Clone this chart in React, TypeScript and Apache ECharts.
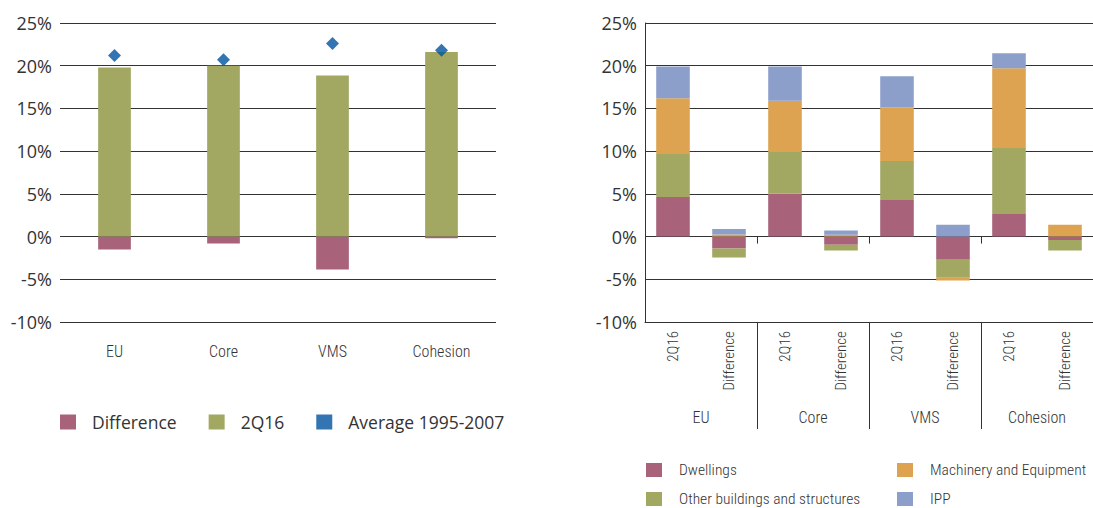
import React, { useEffect, useRef } from "react";
import * as echarts from "echarts";

// ---- Left chart data ----
const leftCategories = ["EU", "Core", "VMS", "Cohesion"];
const leftDifference = [-1.5, -0.8, -3.85, -0.2];
const left2Q16 = [19.8, 20.0, 18.85, 21.6];
const leftAverage = [21.2, 20.7, 22.6, 21.8];

// ---- Right chart data ----
const rightGroups = ["EU", "Core", "VMS", "Cohesion"];
const rightSubCategories = [
  "2Q16", "Difference",
  "2Q16", "Difference",
  "2Q16", "Difference",
  "2Q16", "Difference",
];
const dwellings = [4.64, -1.4, 5.02, -0.97, 4.29, -2.72, 2.65, -0.39];
const otherBuildings = [5.02, -1.05, 4.88, -0.67, 4.55, -2.1, 7.71, -1.25];
const machinery = [6.54, 0.23, 6.0, 0.2, 6.31, -0.32, 9.35, 1.37];
const ipp = [3.7, 0.67, 4.0, 0.5, 3.62, 1.37, 1.76, 0];

// ---- Axis ticks ----
const yMin = -10;
const yMax = 25;
const yStep = 5;

const RED = "#a8637a";
const GREEN = "#a2a862";
const BLUE = "#00539f";
const ORANGE = "#dda351";
const LIGHTBLUE = "#8c9fcb";
const LINE = "#333333";
const TEXT = "#333333";
const SANS = "'Open Sans', 'Noto Sans', sans-serif";
const NARROW = "'Roboto Condensed', 'Liberation Sans', sans-serif";

export default function App() {
  const ref = useRef<HTMLDivElement>(null);

  useEffect(() => {
    if (!ref.current) return;
    const chart = echarts.init(ref.current, null, { renderer: "svg" });

    const yAxisBase = (gridIndex: number, showLine: boolean) => ({
      gridIndex,
      type: "value",
      min: yMin,
      max: yMax,
      interval: yStep,
      axisLabel: {
        formatter: "{value}%",
        fontSize: 18,
        fontFamily: SANS,
        color: TEXT,
        margin: 8,
      },
      axisLine: { show: showLine, lineStyle: { color: LINE, width: 1 } },
      axisTick: { show: false },
      splitLine: { show: true, lineStyle: { color: LINE, width: 1 } },
    });

    const rightLegendText = {
      fontSize: 15.5,
      fontFamily: NARROW,
      fontWeight: 300,
      color: TEXT,
      lineHeight: 16,
      padding: [0, 0, 0, 12],
    };

    const option: any = {
      animation: false,
      grid: [
        { left: 60, top: 23, width: 436, height: 299 },
        { left: 645, top: 23, width: 451, height: 299 },
      ],
      xAxis: [
        {
          gridIndex: 0,
          type: "category",
          data: leftCategories,
          position: "bottom",
          axisLine: { show: false, onZero: false },
          axisTick: { show: false },
          axisLabel: {
            margin: 21,
            fontSize: 16,
            fontFamily: NARROW,
            fontWeight: 300,
            color: TEXT,
            interval: 0,
          },
        },
        {
          gridIndex: 1,
          type: "category",
          data: rightSubCategories,
          position: "bottom",
          axisLine: { show: true, onZero: false, lineStyle: { color: LINE, width: 1 } },
          axisTick: { show: false },
          axisLabel: {
            rotate: 90,
            margin: 9,
            fontSize: 15,
            fontFamily: NARROW,
            fontWeight: 300,
            color: TEXT,
            interval: 0,
          },
        },
        {
          gridIndex: 1,
          type: "category",
          data: rightGroups,
          position: "bottom",
          axisLine: { show: false, onZero: false },
          axisTick: {
            show: true,
            length: 107,
            interval: (i: number) => i !== 0,
            lineStyle: { color: LINE, width: 1 },
          },
          axisLabel: {
            margin: 87,
            fontSize: 16,
            fontFamily: NARROW,
            fontWeight: 300,
            color: TEXT,
            interval: 0,
          },
        },
        {
          gridIndex: 1,
          type: "category",
          data: rightGroups,
          axisLine: { show: false, onZero: true },
          axisTick: {
            show: true,
            inside: true,
            length: 7,
            interval: (i: number) => i !== 0,
            lineStyle: { color: LINE, width: 1 },
          },
          axisLabel: { show: false },
        },
      ],
      yAxis: [yAxisBase(0, false), yAxisBase(1, true)],
      legend: [
        {
          left: 60,
          top: 413,
          padding: 0,
          orient: "horizontal",
          icon: "rect",
          itemWidth: 16,
          itemHeight: 15,
          itemGap: 32,
          data: ["Difference", "2Q16", "Average 1995-2007"],
          textStyle: {
            fontSize: 17.5,
            fontFamily: SANS,
            color: TEXT,
            lineHeight: 17,
            padding: [0, 0, 0, 11],
          },
        },
        {
          left: 646,
          top: 462,
          padding: 0,
          orient: "vertical",
          icon: "rect",
          itemWidth: 16,
          itemHeight: 14,
          itemGap: 13,
          data: ["Dwellings", "Other buildings and structures"],
          textStyle: rightLegendText,
        },
        {
          left: 897,
          top: 462,
          padding: 0,
          orient: "vertical",
          icon: "rect",
          itemWidth: 16,
          itemHeight: 14,
          itemGap: 13,
          data: ["Machinery and Equipment", "IPP"],
          textStyle: rightLegendText,
        },
      ],
      series: [
        {
          type: "bar",
          name: "Difference",
          xAxisIndex: 0,
          yAxisIndex: 0,
          stack: "left",
          barWidth: "30%",
          data: leftDifference,
          itemStyle: { color: RED },
        },
        {
          type: "bar",
          name: "2Q16",
          xAxisIndex: 0,
          yAxisIndex: 0,
          stack: "left",
          barWidth: "30%",
          data: left2Q16,
          itemStyle: { color: GREEN },
        },
        {
          type: "scatter",
          name: "Average 1995-2007",
          xAxisIndex: 0,
          yAxisIndex: 0,
          symbol: "diamond",
          symbolSize: 13,
          data: leftAverage,
          itemStyle: { color: BLUE },
          z: 5,
        },
        {
          type: "bar",
          name: "Dwellings",
          xAxisIndex: 1,
          yAxisIndex: 1,
          stack: "right",
          barWidth: "60%",
          data: dwellings,
          itemStyle: { color: RED },
        },
        {
          type: "bar",
          name: "Other buildings and structures",
          xAxisIndex: 1,
          yAxisIndex: 1,
          stack: "right",
          barWidth: "60%",
          data: otherBuildings,
          itemStyle: { color: GREEN },
        },
        {
          type: "bar",
          name: "Machinery and Equipment",
          xAxisIndex: 1,
          yAxisIndex: 1,
          stack: "right",
          barWidth: "60%",
          data: machinery,
          itemStyle: { color: ORANGE },
        },
        {
          type: "bar",
          name: "IPP",
          xAxisIndex: 1,
          yAxisIndex: 1,
          stack: "right",
          barWidth: "60%",
          data: ipp,
          itemStyle: { color: LIGHTBLUE },
        },
      ],
    };

    chart.setOption(option);
    return () => chart.dispose();
  }, []);

  return (
    <div
      ref={ref}
      style={{ position: "fixed", left: 0, top: 0, width: 1093, height: 508, background: "#fff" }}
    />
  );
}
